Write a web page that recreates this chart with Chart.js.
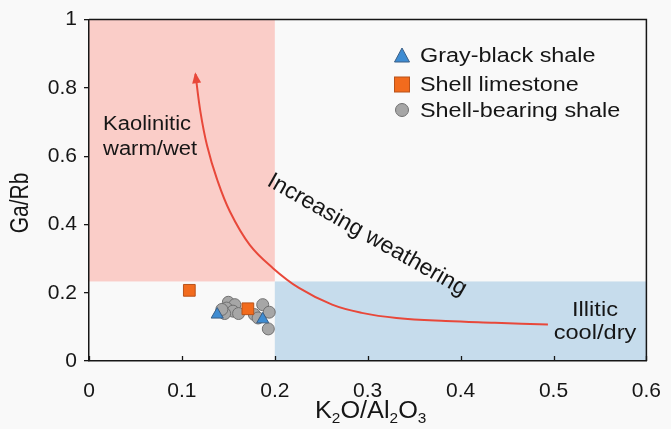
<!DOCTYPE html>
<html>
<head>
<meta charset="utf-8">
<script src="https://cdn.jsdelivr.net/npm/chart.js@4/dist/chart.umd.min.js"></script>
<style>
  html, body { margin: 0; padding: 0; background: #f9f9f9; }
  #wrap { width: 671px; height: 429px; }
</style>
</head>
<body>
<div id="wrap"><canvas id="chart" width="671" height="429"></canvas></div>
<script>
// Ga/Rb against K2O/Al2O3 - clay mineral / palaeoclimate discrimination plot

const xTicks = [0, 0.1, 0.2, 0.3, 0.4, 0.5, 0.6];
const yTicks = [0, 0.2, 0.4, 0.6, 0.8, 1];

const grayBlackX = [0.138, 0.187];
const grayBlackY = [0.136, 0.122];

const limestoneX = [0.108, 0.171];
const limestoneY = [0.207, 0.153];

const shellShaleX = [0.150, 0.157, 0.148, 0.155, 0.146, 0.161, 0.143, 0.178, 0.187, 0.194, 0.193, 0.182];
const shellShaleY = [0.172, 0.165, 0.155, 0.146, 0.139, 0.139, 0.151, 0.136, 0.165, 0.143, 0.094, 0.126];

// weathering trend line, the arrow head sits on the first point
const trendX = [0.1146, 0.120, 0.127, 0.1376, 0.1518, 0.173, 0.198, 0.226, 0.2617, 0.2936, 0.331, 0.384, 0.437, 0.494];
const trendY = [0.840, 0.729, 0.632, 0.534, 0.437, 0.340, 0.272, 0.214, 0.165, 0.141, 0.126, 0.117, 0.112, 0.107];

// fields as [xMin, xMax, yMin, yMax]
const kaoliniteField = [0, 0.2, 0.233, 1];
const illiteField = [0.2, 0.6, 0, 0.233];

const FONT = "'Liberation Sans', Arial, sans-serif";
const INK = '#161616';

const toPoints = (xs, ys) => xs.map((x, i) => ({ x: x, y: ys[i] }));

function wideText(ctx, text, x, y, size, sx, align) {
    ctx.save();
    ctx.font = size + 'px ' + FONT;
    ctx.translate(x, y);
    ctx.scale(sx, 1);
    ctx.textAlign = align || 'left';
    ctx.textBaseline = 'alphabetic';
    ctx.fillText(text, 0, 0);
    ctx.restore();
}

function fillField(chart, field, color) {
    const xs = chart.scales.x, ys = chart.scales.y;
    const x0 = xs.getPixelForValue(field[0]), x1 = xs.getPixelForValue(field[1]);
    const y0 = ys.getPixelForValue(field[3]), y1 = ys.getPixelForValue(field[2]);
    chart.ctx.fillStyle = color;
    chart.ctx.fillRect(x0, y0, x1 - x0, y1 - y0);
}

const plotExtras = {
    id: 'plotExtras',
    beforeDraw(chart) {
        fillField(chart, kaoliniteField, '#facdc8');
        fillField(chart, illiteField, '#c6dcec');
    },
    afterDatasetsDraw(chart) {
        const ctx = chart.ctx;
        const xs = chart.scales.x, ys = chart.scales.y;

        // arrow head at the top of the trend line
        const tx = xs.getPixelForValue(trendX[0]), ty = ys.getPixelForValue(trendY[0]);
        const bx = xs.getPixelForValue(trendX[1]), by = ys.getPixelForValue(trendY[1]);
        const ang = Math.atan2(ty - by, tx - bx);
        ctx.save();
        ctx.translate(tx, ty);
        ctx.rotate(ang);
        ctx.fillStyle = '#e8483a';
        ctx.beginPath();
        ctx.moveTo(2, 0);
        ctx.lineTo(-9, -4.5);
        ctx.lineTo(-9, 4.5);
        ctx.closePath();
        ctx.fill();
        ctx.restore();
    },
    afterDraw(chart) {
        const ctx = chart.ctx;
        const a = chart.chartArea;
        const xs = chart.scales.x;

        // top and right frame
        ctx.save();
        ctx.strokeStyle = INK;
        ctx.lineWidth = 1.5;
        ctx.beginPath();
        ctx.moveTo(a.left, a.top);
        ctx.lineTo(a.right, a.top);
        ctx.lineTo(a.right, a.bottom);
        ctx.stroke();

        // x ticks point inward
        ctx.lineWidth = 1.3;
        ctx.beginPath();
        xTicks.forEach(v => {
            const px = Math.round(xs.getPixelForValue(v)) + 0.5;
            ctx.moveTo(px, a.bottom);
            ctx.lineTo(px, a.bottom - 5);
        });
        ctx.stroke();
        ctx.restore();

        ctx.save();
        ctx.fillStyle = INK;

        // field labels
        wideText(ctx, 'Kaolinitic', 103, 130, 20, 1.1, 'left');
        wideText(ctx, 'warm/wet', 103, 155, 20, 1.1, 'left');
        wideText(ctx, 'Illitic', 595, 316, 20, 1.18, 'center');
        wideText(ctx, 'cool/dry', 595, 339, 20, 1.18, 'center');

        ctx.save();
        ctx.translate(367, 235);
        ctx.rotate(29.5 * Math.PI / 180);
        ctx.font = '23px ' + FONT;
        ctx.textAlign = 'center';
        ctx.textBaseline = 'middle';
        ctx.fillText('Increasing weathering', 0, 0);
        ctx.restore();

        // y axis title
        ctx.save();
        ctx.translate(21, 203);
        ctx.scale(1.2, 1);
        ctx.rotate(-Math.PI / 2);
        ctx.font = '21px ' + FONT;
        ctx.textAlign = 'center';
        ctx.textBaseline = 'middle';
        ctx.fillText('Ga/Rb', 0, 0);
        ctx.restore();

        // x axis title with subscripts
        const parts = [['K', 0], ['2', 1], ['O/Al', 0], ['2', 1], ['O', 0], ['3', 1]];
        const sx = 1.1;
        let total = 0;
        parts.forEach(p => {
            ctx.font = (p[1] ? 14 : 23) + 'px ' + FONT;
            total += ctx.measureText(p[0]).width * sx;
        });
        let cx = (a.left + a.right) / 2 - total / 2 + 3;
        parts.forEach(p => {
            const size = p[1] ? 14 : 23;
            wideText(ctx, p[0], cx, p[1] ? 423 : 418, size, sx, 'left');
            ctx.font = size + 'px ' + FONT;
            cx += ctx.measureText(p[0]).width * sx;
        });

        // legend
        ctx.lineWidth = 1;
        ctx.fillStyle = '#3e8cd2';
        ctx.strokeStyle = '#3b5f86';
        ctx.beginPath();
        ctx.moveTo(402, 48);
        ctx.lineTo(409.5, 62);
        ctx.lineTo(394.5, 62);
        ctx.closePath();
        ctx.fill();
        ctx.stroke();

        ctx.fillStyle = '#f26b1d';
        ctx.strokeStyle = '#b8521a';
        ctx.fillRect(394.5, 77, 15, 15);
        ctx.strokeRect(394.5, 77, 15, 15);

        ctx.fillStyle = '#a6a6a6';
        ctx.strokeStyle = '#707070';
        ctx.beginPath();
        ctx.arc(402, 110, 6.5, 0, Math.PI * 2);
        ctx.fill();
        ctx.stroke();

        ctx.fillStyle = INK;
        wideText(ctx, 'Gray-black shale', 420, 62, 20, 1.17, 'left');
        wideText(ctx, 'Shell limestone', 420, 91, 20, 1.17, 'left');
        wideText(ctx, 'Shell-bearing shale', 420, 117, 20, 1.17, 'left');
        ctx.restore();
    }
};

const fmt = v => String(Number(Number(v).toFixed(1)));

new Chart(document.getElementById('chart'), {
    type: 'scatter',
    data: {
        datasets: [
            {
                label: 'Gray-black shale',
                data: toPoints(grayBlackX, grayBlackY),
                pointStyle: 'triangle',
                pointRadius: 7,
                backgroundColor: '#3e8cd2',
                borderColor: '#3b5f86',
                borderWidth: 1
            },
            {
                label: 'Shell limestone',
                data: toPoints(limestoneX, limestoneY),
                pointStyle: 'rect',
                pointRadius: 8.3,
                backgroundColor: '#f26b1d',
                borderColor: '#b8521a',
                borderWidth: 1
            },
            {
                label: 'Shell-bearing shale',
                data: toPoints(shellShaleX, shellShaleY),
                pointStyle: 'circle',
                pointRadius: 6,
                backgroundColor: '#a6a6a6',
                borderColor: '#707070',
                borderWidth: 1
            },
            {
                label: 'Increasing weathering',
                data: toPoints(trendX, trendY),
                showLine: true,
                pointRadius: 0,
                borderColor: '#e8483a',
                borderWidth: 2,
                tension: 0.4,
                fill: false
            }
        ]
    },
    options: {
        responsive: false,
        devicePixelRatio: 1,
        animation: false,
        events: [],
        layout: { padding: { top: 17, right: 18, left: 0, bottom: 0 } },
        plugins: {
            legend: { display: false },
            tooltip: { enabled: false }
        },
        scales: {
            x: {
                type: 'linear',
                min: 0,
                max: 0.6,
                afterBuildTicks: s => { s.ticks = xTicks.map(v => ({ value: v })); },
                afterFit: s => { s.height = 68; },
                grid: { display: false },
                border: { display: true, color: INK, width: 1.5 },
                ticks: {
                    padding: 10,
                    color: INK,
                    font: { family: FONT, size: 21 },
                    maxRotation: 0,
                    callback: fmt
                }
            },
            y: {
                type: 'linear',
                min: 0,
                max: 1,
                afterBuildTicks: s => { s.ticks = yTicks.map(v => ({ value: v })); },
                afterFit: s => { s.width = 89; },
                grid: { display: true, drawOnChartArea: false, drawTicks: true, tickLength: 5, color: INK, lineWidth: 1.3 },
                border: { display: true, color: INK, width: 1.5 },
                ticks: {
                    padding: 7,
                    color: INK,
                    font: { family: FONT, size: 21 },
                    callback: fmt
                }
            }
        }
    },
    plugins: [plotExtras]
});
</script>
</body>
</html>
